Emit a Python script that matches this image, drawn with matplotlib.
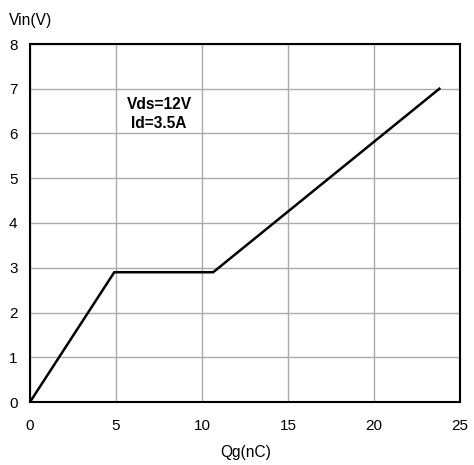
import matplotlib
matplotlib.use("Agg")
import matplotlib.pyplot as plt

plt.rcParams['font.family'] = ['Liberation Sans', 'DejaVu Sans']

# gate charge curve
qg = [0, 4.9, 10.65, 23.8]
vin = [0, 2.9, 2.9, 7.0]

xticks = [0, 5, 10, 15, 20, 25]
yticks = [0, 1, 2, 3, 4, 5, 6, 7, 8]

fig = plt.figure(figsize=(4.74, 4.65), dpi=100)
ax = fig.add_axes([30 / 474, 1 - 402 / 465, 430 / 474, 358 / 465])

ax.plot(qg, vin, color='black', linewidth=1.8, zorder=3)

ax.set_xlim(0, 25)
ax.set_ylim(0, 8)
ax.set_xticks(xticks)
ax.set_yticks(yticks)
ax.grid(True, color='#aaaaaa', linewidth=1)
ax.tick_params(length=0, labelsize=11, pad=12)
ax.tick_params(axis='y', pad=9)
for s in ax.spines.values():
    s.set_linewidth(1.5)
    s.set_color('black')

ax.text(7.5, 6.44, 'Vds=12V\nId=3.5A', fontsize=11.2, fontweight='bold',
        ha='center', va='center', linespacing=1.3)

fig.text(9 / 474, 1 - 20 / 465, 'Vin(V)', fontsize=11.2, ha='left', va='center')
fig.text(246 / 474, 1 - 452 / 465, 'Qg(nC)', fontsize=11.2, ha='center', va='center')

fig.savefig('out.png', dpi=100)
